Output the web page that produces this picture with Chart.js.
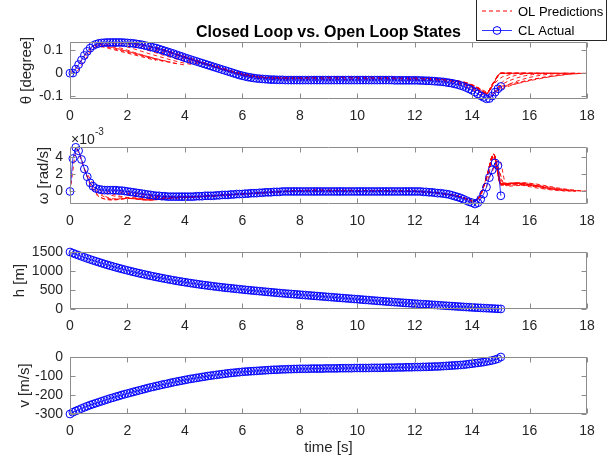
<!DOCTYPE html>
<html>
<head>
<meta charset="utf-8">
<script src="https://cdn.jsdelivr.net/npm/chart.js@4.4.1/dist/chart.umd.min.js"></script>
<style>
  html, body { margin: 0; padding: 0; background: #fff; }
  #fig { position: relative; width: 611px; height: 466px; overflow: hidden; background: #fff; }
  #fig canvas { position: absolute; left: 0; }
</style>
</head>
<body>
<div id="fig">
  <canvas id="c0" width="611" height="125" style="top:0px"></canvas>
  <canvas id="c1" width="611" height="125" style="top:105px"></canvas>
  <canvas id="c2" width="611" height="125" style="top:210px"></canvas>
  <canvas id="c3" width="611" height="151" style="top:315px"></canvas>
</div>
<script>
// closed loop samples, one every CL_DT seconds from t = 0 to 15
const CL_DT = 0.1;

const clTheta = [
  0.000, 0.001, 0.018, 0.038, 0.058, 0.078, 0.096, 0.110, 0.121, 0.127, 0.131,
  0.133, 0.134, 0.135, 0.135, 0.135, 0.135, 0.135, 0.135, 0.134, 0.133,
  0.132, 0.131, 0.129, 0.127, 0.125, 0.122, 0.119, 0.116, 0.113, 0.110,
  0.106, 0.102, 0.098, 0.094, 0.090, 0.086, 0.081, 0.077, 0.073, 0.068,
  0.064, 0.060, 0.056, 0.052, 0.048, 0.044, 0.040, 0.036, 0.032, 0.028,
  0.024, 0.020, 0.016, 0.012, 0.008, 0.004, 0.000, -0.004, -0.008, -0.011,
  -0.014, -0.017, -0.019, -0.021, -0.023, -0.024, -0.025, -0.026, -0.027, -0.028,
  -0.028, -0.029, -0.029, -0.029, -0.030, -0.030, -0.030, -0.030, -0.030, -0.030,
  -0.030, -0.030, -0.030, -0.030, -0.030, -0.030, -0.030, -0.030, -0.030, -0.030,
  -0.030, -0.030, -0.030, -0.030, -0.030, -0.030, -0.030, -0.030, -0.030, -0.030,
  -0.030, -0.030, -0.030, -0.030, -0.030, -0.030, -0.030, -0.030, -0.030, -0.030,
  -0.030, -0.030, -0.031, -0.031, -0.031, -0.031, -0.031, -0.031, -0.031, -0.031,
  -0.031, -0.032, -0.032, -0.033, -0.033, -0.034, -0.035, -0.036, -0.037, -0.038,
  -0.040, -0.042, -0.044, -0.047, -0.050, -0.054, -0.058, -0.063, -0.069, -0.075,
  -0.083, -0.091, -0.099, -0.106, -0.112, -0.111, -0.100, -0.083, -0.068, -0.058
];

// omega in units of 1e-3 rad/s (axis shows x10^-3)
const clOmega = [
  0, 3.8, 5.1, 4.7, 3.7, 2.6, 1.7, 1.0, 0.6, 0.35, 0.25,
  0.2, 0.15, 0.15, 0.15, 0.15, 0.15, 0.1, 0.1, 0.05, 0.0,
  -0.05, -0.1, -0.15, -0.2, -0.25, -0.3, -0.35, -0.4, -0.45, -0.5,
  -0.5, -0.55, -0.55, -0.6, -0.6, -0.6, -0.6, -0.6, -0.6, -0.6,
  -0.6, -0.6, -0.6, -0.55, -0.55, -0.55, -0.5, -0.5, -0.5, -0.5,
  -0.45, -0.45, -0.4, -0.4, -0.4, -0.35, -0.35, -0.3, -0.3, -0.3,
  -0.25, -0.25, -0.2, -0.2, -0.2, -0.15, -0.15, -0.1, -0.1, -0.1,
  -0.05, -0.05, -0.05, 0, 0, 0, 0, 0, 0, 0,
  0, 0, 0, 0, 0, 0, 0, 0, 0, 0,
  0, 0, 0, 0, 0, 0, 0, 0, 0, 0,
  0, 0, 0, 0, 0, 0, 0, 0, 0, 0,
  0, 0, 0, 0, 0, 0, 0, 0, 0, 0,
  0, 0, -0.05, -0.05, -0.1, -0.1, -0.15, -0.2, -0.2, -0.25,
  -0.3, -0.35, -0.45, -0.55, -0.65, -0.75, -0.9, -1.05, -1.2, -1.3,
  -1.45, -1.3, -0.9, -0.3, 0.5, 1.6, 2.5, 3.3, 3.0, -0.5
];

const clH = [
  1500, 1470, 1441, 1413, 1385, 1358, 1331, 1305, 1280, 1255, 1231,
  1207, 1184, 1161, 1139, 1117, 1096, 1075, 1055, 1035, 1016,
  997, 978, 960, 942, 925, 908, 891, 875, 859, 843,
  828, 813, 798, 784, 770, 756, 743, 730, 717, 705,
  693, 681, 670, 659, 648, 637, 627, 617, 607, 597,
  588, 579, 570, 561, 553, 545, 537, 529, 521, 513,
  505, 497, 490, 483, 476, 469, 462, 455, 448, 441,
  434, 427, 420, 413, 407, 401, 395, 389, 383, 377,
  371, 365, 359, 353, 347, 341, 335, 329, 323, 317,
  311, 305, 299, 293, 287, 281, 275, 269, 263, 257,
  251, 245, 239, 233, 227, 221, 215, 209, 203, 197,
  192, 186, 180, 175, 169, 164, 158, 153, 147, 142,
  137, 132, 127, 122, 117, 112, 107, 102, 96, 91,
  86, 81, 76, 71, 66, 61, 56, 51, 46, 41,
  37, 33, 29, 25, 21, 17, 13, 9, 5, 2
];

const clV = [
  -300, -291, -284, -278, -271, -265, -259, -253, -248, -243, -238,
  -233, -228, -223, -218, -214, -209, -205, -200, -196, -192,
  -188, -184, -180, -176, -172, -168, -164, -160, -157, -153,
  -150, -146, -143, -140, -136, -133, -130, -127, -124, -121,
  -118, -115, -113, -110, -108, -105, -103, -100, -98, -96,
  -94, -92, -90, -88, -86, -84, -83, -81, -80, -78,
  -77, -76, -75, -74, -73, -72, -71, -70, -69, -68,
  -67, -67, -66, -65, -65, -64, -64, -63, -63, -62,
  -62, -62, -62, -61, -61, -61, -61, -61, -60, -60,
  -60, -60, -60, -59, -59, -59, -59, -59, -58, -58,
  -58, -58, -58, -58, -57, -57, -57, -57, -57, -56,
  -56, -56, -56, -55, -55, -55, -54, -54, -54, -53,
  -53, -53, -52, -52, -51, -51, -50, -50, -49, -48,
  -47, -46, -45, -44, -43, -42, -41, -39, -37, -35,
  -33, -31, -29, -27, -24, -21, -18, -14, -9, 0
];

// open loop predictions: row k starts at olStarts[k], one value every OL_DT s over a 3 s horizon
const OL_DT = 0.25;
const olStarts = [0, 0.5, 1, 1.5, 2, 2.5, 3, 3.5, 4, 4.5, 5, 5.5, 6, 6.5, 7, 7.5, 8, 8.5,
  9, 9.5, 10, 10.5, 11, 11.5, 12, 12.5, 13, 13.5, 14, 14.5, 14.6, 14.7, 14.8, 14.9, 15,
  0.25, 0.75, 1.25, 1.75, 2.25, 2.75, 3.25, 3.75, 4.25, 4.75, 5.25, 5.75,
  11.75, 12.25, 12.75, 13.25, 13.75, 14.25];

const olTheta = [
  [0.000, 0.030, 0.075, 0.105, 0.118, 0.112, 0.104, 0.096, 0.088, 0.080, 0.072, 0.064, 0.056],
  [0.078, 0.112, 0.124, 0.120, 0.112, 0.104, 0.096, 0.088, 0.080, 0.072, 0.064, 0.056, 0.049],
  [0.131, 0.127, 0.120, 0.111, 0.101, 0.091, 0.081, 0.072, 0.063, 0.055, 0.048, 0.042, 0.036],
  [0.135, 0.132, 0.126, 0.118, 0.109, 0.099, 0.089, 0.079, 0.070, 0.061, 0.053, 0.046, 0.040],
  [0.133, 0.130, 0.124, 0.116, 0.107, 0.097, 0.087, 0.077, 0.067, 0.058, 0.049, 0.041, 0.034],
  [0.125, 0.120, 0.113, 0.104, 0.094, 0.084, 0.073, 0.063, 0.053, 0.043, 0.034, 0.025, 0.017],
  [0.110, 0.103, 0.094, 0.084, 0.073, 0.062, 0.051, 0.041, 0.031, 0.022, 0.013, 0.005, -0.002],
  [0.090, 0.082, 0.072, 0.062, 0.051, 0.041, 0.031, 0.021, 0.012, 0.004, -0.003, -0.009, -0.013],
  [0.068, 0.059, 0.049, 0.039, 0.029, 0.019, 0.010, 0.002, -0.005, -0.011, -0.015, -0.018, -0.020],
  [0.048, 0.038, 0.028, 0.019, 0.010, 0.002, -0.005, -0.011, -0.015, -0.018, -0.020, -0.021, -0.021],
  [0.028, 0.019, 0.010, 0.002, -0.005, -0.011, -0.015, -0.018, -0.020, -0.021, -0.021, -0.021, -0.021],
  [0.008, 0.000, -0.007, -0.012, -0.016, -0.019, -0.020, -0.021, -0.021, -0.021, -0.021, -0.021, -0.021],
  [-0.011, -0.015, -0.018, -0.020, -0.021, -0.021, -0.021, -0.021, -0.021, -0.021, -0.021, -0.021, -0.021],
  [-0.023, -0.023, -0.022, -0.021, -0.020, -0.019, -0.018, -0.018, -0.017, -0.017, -0.017, -0.017, -0.017],
  [-0.028, -0.026, -0.024, -0.022, -0.021, -0.020, -0.020, -0.019, -0.019, -0.019, -0.019, -0.019, -0.019],
  [-0.030, -0.027, -0.024, -0.021, -0.019, -0.018, -0.017, -0.016, -0.016, -0.016, -0.016, -0.016, -0.016],
  [-0.030, -0.027, -0.025, -0.023, -0.021, -0.020, -0.019, -0.019, -0.018, -0.018, -0.018, -0.018, -0.018],
  [-0.030, -0.028, -0.025, -0.022, -0.020, -0.019, -0.018, -0.017, -0.017, -0.017, -0.017, -0.017, -0.017],
  [-0.030, -0.028, -0.026, -0.025, -0.024, -0.023, -0.023, -0.023, -0.023, -0.023, -0.023, -0.023, -0.023],
  [-0.030, -0.027, -0.025, -0.023, -0.022, -0.021, -0.021, -0.021, -0.021, -0.021, -0.021, -0.022, -0.022],
  [-0.030, -0.027, -0.024, -0.022, -0.020, -0.019, -0.019, -0.019, -0.019, -0.020, -0.022, -0.024, -0.027],
  [-0.030, -0.027, -0.025, -0.023, -0.022, -0.021, -0.021, -0.022, -0.023, -0.025, -0.027, -0.030, -0.035],
  [-0.030, -0.027, -0.025, -0.024, -0.023, -0.023, -0.024, -0.025, -0.027, -0.030, -0.035, -0.042, -0.052],
  [-0.031, -0.028, -0.026, -0.025, -0.025, -0.026, -0.028, -0.031, -0.035, -0.042, -0.052, -0.066, -0.082],
  [-0.031, -0.029, -0.027, -0.027, -0.028, -0.030, -0.034, -0.040, -0.052, -0.068, -0.086, -0.038, 0.000],
  [-0.032, -0.030, -0.030, -0.031, -0.034, -0.040, -0.052, -0.070, -0.088, -0.040, 0.000, 0.000, 0.000],
  [-0.038, -0.036, -0.036, -0.040, -0.050, -0.066, -0.086, -0.040, 0.000, 0.000, 0.000, 0.000, 0.000],
  [-0.050, -0.052, -0.058, -0.070, -0.088, -0.042, 0.000, 0.000, 0.000, 0.000, 0.000, 0.000, 0.000],
  [-0.075, -0.082, -0.090, -0.045, 0.000, 0.000, 0.000, 0.000, 0.000, 0.000, 0.000, 0.000, 0.000],
  [-0.112, -0.085, -0.045, -0.022, -0.010, -0.004, -0.001, 0.000, 0.000, 0.000, 0.000, 0.000, 0.000],
  [-0.111, -0.070, -0.045, -0.030, -0.019, -0.011, -0.006, -0.003, -0.001, 0.000, 0.000, 0.000, 0.000],
  [-0.099, -0.070, -0.053, -0.040, -0.029, -0.020, -0.013, -0.008, -0.004, -0.002, 0.000, 0.000, 0.000],
  [-0.082, -0.068, -0.056, -0.046, -0.037, -0.029, -0.022, -0.016, -0.011, -0.006, -0.003, -0.001, 0.000],
  [-0.067, -0.058, -0.050, -0.043, -0.036, -0.029, -0.023, -0.017, -0.012, -0.008, -0.004, -0.002, 0.000],
  [-0.058, -0.050, -0.043, -0.036, -0.030, -0.024, -0.019, -0.014, -0.010, -0.006, -0.003, -0.001, 0.000],
  // intermediate starts
  [0.008, 0.055, 0.100, 0.120, 0.116, 0.108, 0.100, 0.092, 0.084, 0.076, 0.068, 0.060, 0.052],
  [0.116, 0.127, 0.122, 0.114, 0.105, 0.096, 0.087, 0.078, 0.069, 0.061, 0.054, 0.047, 0.041],
  [0.134, 0.130, 0.123, 0.115, 0.106, 0.096, 0.086, 0.077, 0.068, 0.059, 0.051, 0.044, 0.038],
  [0.135, 0.132, 0.126, 0.118, 0.109, 0.100, 0.090, 0.080, 0.070, 0.061, 0.052, 0.044, 0.037],
  [0.130, 0.126, 0.119, 0.110, 0.101, 0.091, 0.081, 0.071, 0.061, 0.051, 0.042, 0.033, 0.025],
  [0.118, 0.112, 0.104, 0.094, 0.083, 0.072, 0.062, 0.052, 0.042, 0.032, 0.023, 0.015, 0.007],
  [0.100, 0.092, 0.082, 0.072, 0.061, 0.051, 0.041, 0.031, 0.022, 0.013, 0.005, -0.002, -0.008],
  [0.079, 0.070, 0.060, 0.050, 0.040, 0.030, 0.021, 0.012, 0.004, -0.003, -0.009, -0.014, -0.017],
  [0.058, 0.048, 0.038, 0.028, 0.019, 0.010, 0.002, -0.005, -0.011, -0.015, -0.018, -0.020, -0.021],
  [0.038, 0.028, 0.019, 0.010, 0.002, -0.005, -0.011, -0.015, -0.018, -0.020, -0.021, -0.021, -0.021],
  [0.018, 0.009, 0.001, -0.006, -0.012, -0.016, -0.019, -0.020, -0.021, -0.021, -0.021, -0.021, -0.021],
  [-0.002, -0.009, -0.014, -0.018, -0.020, -0.021, -0.021, -0.021, -0.020, -0.020, -0.020, -0.020, -0.020],
  [-0.031, -0.028, -0.026, -0.026, -0.026, -0.027, -0.030, -0.034, -0.042, -0.054, -0.070, -0.086, -0.040],
  [-0.032, -0.030, -0.029, -0.029, -0.031, -0.035, -0.044, -0.058, -0.074, -0.088, -0.040, 0.000, 0.000],
  [-0.034, -0.033, -0.034, -0.038, -0.046, -0.060, -0.076, -0.090, -0.042, 0.000, 0.000, 0.000, 0.000],
  [-0.043, -0.044, -0.050, -0.062, -0.078, -0.090, -0.042, 0.000, 0.000, 0.000, 0.000, 0.000, 0.000],
  [-0.060, -0.068, -0.080, -0.092, -0.044, 0.000, 0.000, 0.000, 0.000, 0.000, 0.000, 0.000, 0.000],
  [-0.095, -0.090, -0.050, -0.020, -0.008, -0.002, 0.000, 0.000, 0.000, 0.000, 0.000, 0.000, 0.000]
];

const olOmega = [
  [0.0, 4.9, 2.6, 0.6, -0.5, -0.9, -1.0, -0.9, -0.8, -0.85, -0.95, -1.0, -0.95],
  [2.6, 1.2, 0.0, -0.6, -0.85, -0.85, -0.8, -0.85, -0.95, -1.0, -0.95, -0.85, -0.75],
  [0.25, -0.2, -0.5, -0.65, -0.7, -0.75, -0.85, -0.9, -0.9, -0.85, -0.75, -0.7, -0.65],
  [0.15, -0.1, -0.35, -0.5, -0.6, -0.7, -0.75, -0.8, -0.8, -0.75, -0.7, -0.65, -0.6],
  [0.0, -0.2, -0.35, -0.5, -0.6, -0.65, -0.7, -0.7, -0.7, -0.65, -0.6, -0.55, -0.5],
  [-0.25, -0.4, -0.5, -0.6, -0.65, -0.7, -0.7, -0.65, -0.6, -0.55, -0.5, -0.45, -0.4],
  [-0.5, -0.55, -0.6, -0.65, -0.65, -0.65, -0.6, -0.55, -0.5, -0.45, -0.4, -0.35, -0.3],
  [-0.6, -0.6, -0.65, -0.65, -0.6, -0.55, -0.5, -0.45, -0.4, -0.35, -0.3, -0.25, -0.2],
  [-0.6, -0.6, -0.6, -0.55, -0.5, -0.45, -0.4, -0.35, -0.3, -0.25, -0.2, -0.15, -0.1],
  [-0.55, -0.55, -0.5, -0.45, -0.4, -0.35, -0.3, -0.25, -0.2, -0.15, -0.1, -0.05, 0.0],
  [-0.5, -0.45, -0.4, -0.35, -0.3, -0.25, -0.2, -0.15, -0.1, -0.05, 0.0, 0.05, 0.05],
  [-0.35, -0.3, -0.25, -0.2, -0.15, -0.1, -0.05, 0.0, 0.05, 0.05, 0.1, 0.1, 0.1],
  [-0.3, -0.25, -0.2, -0.15, -0.1, -0.05, 0.0, 0.05, 0.1, 0.1, 0.1, 0.1, 0.1],
  [-0.15, -0.1, -0.05, 0.0, 0.05, 0.1, 0.1, 0.15, 0.15, 0.15, 0.1, 0.1, 0.1],
  [-0.1, -0.05, 0.0, 0.05, 0.1, 0.1, 0.15, 0.15, 0.15, 0.1, 0.1, 0.1, 0.1],
  [0.0, 0.05, 0.1, 0.1, 0.15, 0.15, 0.15, 0.1, 0.1, 0.1, 0.1, 0.1, 0.1],
  [0.0, 0.05, 0.1, 0.1, 0.1, 0.1, 0.1, 0.1, 0.1, 0.1, 0.1, 0.1, 0.1],
  [0.0, 0.05, 0.1, 0.15, 0.15, 0.15, 0.1, 0.1, 0.1, 0.1, 0.1, 0.1, 0.05],
  [0.0, 0.05, 0.1, 0.1, 0.1, 0.1, 0.1, 0.1, 0.1, 0.1, 0.1, 0.05, 0.05],
  [0.0, 0.05, 0.1, 0.1, 0.1, 0.1, 0.1, 0.1, 0.1, 0.1, 0.05, 0.05, 0.0],
  [0.0, 0.05, 0.1, 0.1, 0.1, 0.1, 0.1, 0.1, 0.05, 0.0, -0.05, -0.1, -0.2],
  [0.0, 0.05, 0.1, 0.1, 0.1, 0.05, 0.0, -0.05, -0.1, -0.2, -0.3, -0.4, -0.5],
  [0.0, 0.05, 0.05, 0.05, 0.0, -0.05, -0.1, -0.2, -0.3, -0.4, -0.6, -0.8, -1.0],
  [0.0, 0.0, 0.0, -0.05, -0.1, -0.2, -0.3, -0.45, -0.6, -0.8, -1.1, -0.6, 1.6],
  [0.0, -0.05, -0.1, -0.15, -0.25, -0.4, -0.55, -0.8, -1.1, -0.6, 1.6, 4.3, 0.9],
  [-0.1, -0.15, -0.25, -0.4, -0.55, -0.8, -1.1, -0.6, 1.6, 4.3, 0.9, 0.9, 0.9],
  [-0.25, -0.4, -0.55, -0.8, -1.1, -0.6, 1.6, 4.3, 0.9, 0.9, 0.95, 0.9, 0.8],
  [-0.5, -0.75, -1.1, -0.6, 1.6, 4.2, 0.9, 0.95, 1.0, 0.95, 0.85, 0.7, 0.55],
  [-1.3, -0.7, 1.5, 4.2, 0.8, 0.85, 0.9, 0.85, 0.75, 0.6, 0.45, 0.3, 0.2],
  [0.5, 3.9, 0.8, 0.85, 0.9, 0.8, 0.65, 0.5, 0.35, 0.25, 0.15, 0.08, 0.03],
  [1.6, 3.0, 0.8, 0.9, 0.95, 0.85, 0.7, 0.55, 0.4, 0.25, 0.15, 0.08, 0.03],
  [2.5, 3.6, 0.6, 0.65, 0.7, 0.7, 0.6, 0.5, 0.35, 0.25, 0.15, 0.08, 0.03],
  [3.2, 1.0, 0.95, 1.0, 1.0, 0.9, 0.75, 0.6, 0.45, 0.3, 0.2, 0.1, 0.05],
  [2.9, 0.7, 0.75, 0.8, 0.8, 0.7, 0.6, 0.45, 0.35, 0.25, 0.15, 0.08, 0.03],
  [0.8, 0.9, 0.95, 1.0, 0.95, 0.85, 0.7, 0.55, 0.4, 0.28, 0.18, 0.1, 0.05],
  // intermediate starts
  [4.9, 2.6, 0.4, -0.6, -0.9, -0.95, -0.85, -0.8, -0.85, -0.95, -1.0, -0.95, -0.85],
  [0.8, -0.2, -0.7, -0.9, -0.9, -0.8, -0.8, -0.9, -0.95, -0.95, -0.85, -0.75, -0.7],
  [0.15, -0.3, -0.55, -0.7, -0.75, -0.8, -0.85, -0.9, -0.85, -0.8, -0.7, -0.65, -0.6],
  [0.1, -0.2, -0.45, -0.6, -0.7, -0.75, -0.8, -0.8, -0.75, -0.7, -0.65, -0.6, -0.55],
  [-0.15, -0.3, -0.45, -0.55, -0.65, -0.7, -0.7, -0.7, -0.65, -0.6, -0.55, -0.5, -0.45],
  [-0.4, -0.5, -0.6, -0.65, -0.7, -0.7, -0.65, -0.6, -0.55, -0.5, -0.45, -0.4, -0.35],
  [-0.55, -0.6, -0.65, -0.65, -0.65, -0.6, -0.55, -0.5, -0.45, -0.4, -0.35, -0.3, -0.25],
  [-0.6, -0.6, -0.6, -0.6, -0.55, -0.5, -0.45, -0.4, -0.35, -0.3, -0.25, -0.2, -0.15],
  [-0.6, -0.6, -0.55, -0.5, -0.45, -0.4, -0.35, -0.3, -0.25, -0.2, -0.15, -0.1, -0.05],
  [-0.5, -0.5, -0.45, -0.4, -0.35, -0.3, -0.25, -0.2, -0.15, -0.1, -0.05, 0.0, 0.05],
  [-0.45, -0.4, -0.35, -0.3, -0.25, -0.2, -0.15, -0.1, -0.05, 0.0, 0.05, 0.1, 0.1],
  [-0.35, -0.3, -0.25, -0.2, -0.15, -0.1, -0.05, 0.0, 0.05, 0.1, 0.1, 0.1, 0.1],
  [0.0, 0.0, -0.05, -0.1, -0.15, -0.25, -0.4, -0.55, -0.8, -1.1, -0.6, 1.6, 4.3],
  [-0.05, -0.1, -0.15, -0.25, -0.4, -0.55, -0.8, -1.1, -0.6, 1.6, 4.3, 0.9, 0.85],
  [-0.15, -0.25, -0.4, -0.55, -0.8, -1.1, -0.6, 1.6, 4.3, 0.85, 0.9, 0.95, 0.9],
  [-0.35, -0.55, -0.8, -1.1, -0.6, 1.6, 4.3, 0.85, 0.9, 0.95, 0.9, 0.8, 0.65],
  [-0.75, -1.1, -0.65, 1.55, 4.2, 0.8, 0.85, 0.9, 0.85, 0.75, 0.6, 0.45, 0.3],
  [-1.1, 1.5, 4.1, 0.7, 0.75, 0.75, 0.7, 0.55, 0.4, 0.3, 0.18, 0.1, 0.05]
];

// h and v predictions are hidden under the CL markers, only the tail past t = 15 shows
const olTailTime = [15, 16, 17, 18];
const olHTail = [0, 0, 0, 0];
const olVTail = [0, 0, 0, 0];

const xTicks = [0, 2, 4, 6, 8, 10, 12, 14, 16, 18];
const thetaTicks = [-0.1, 0, 0.1];
const omegaTicks = [0, 2, 4];
const hTicks = [0, 500, 1000, 1500];
const vTicks = [-300, -200, -100, 0];

const FONT = "'Liberation Sans', Arial, Helvetica, sans-serif";
const TXT = '#262626';
const BLUE = '#0000ff';
const RED = '#ff0000';

Chart.defaults.font.family = FONT;

function clDataset(values) {
  return {
    data: values.map((y, i) => ({ x: Math.round(i * CL_DT * 10) / 10, y })),
    showLine: true,
    borderColor: BLUE,
    borderWidth: 0.8,
    pointRadius: 3.9,
    pointBorderWidth: 1,
    pointBorderColor: BLUE,
    pointBackgroundColor: 'rgba(0,0,0,0)',
    clip: false,
    order: 0
  };
}

function olDataset(times, values) {
  return {
    data: values.map((y, j) => ({ x: times[j], y })),
    showLine: true,
    borderColor: RED,
    borderWidth: 0.9,
    borderDash: [4, 3],
    pointRadius: 0,
    cubicInterpolationMode: 'monotone',
    order: 1
  };
}

function olSets(rows) {
  return rows.map((row, k) => olDataset(row.map((_, j) => olStarts[k] + j * OL_DT), row));
}

// axes box with inward ticks on all four sides, like the original figure
const axesBox = {
  id: 'axesBox',
  afterDatasetsDraw(chart) {
    const { ctx, chartArea: a, scales } = chart;
    const yTicks = chart.options.plugins.axesBox.yTicks;
    const L = Math.round(a.left) + 0.5, R = Math.round(a.right) - 0.5;
    const T = Math.round(a.top) + 0.5, B = Math.round(a.bottom) - 0.5;
    ctx.save();
    ctx.strokeStyle = '#8c8c8c';
    ctx.lineWidth = 1;
    ctx.beginPath();
    ctx.rect(L, T, R - L, B - T);
    const tl = 5;
    xTicks.forEach(v => {
      const px = Math.round(scales.x.getPixelForValue(v)) + 0.5;
      ctx.moveTo(px, B); ctx.lineTo(px, B - tl);
      ctx.moveTo(px, T); ctx.lineTo(px, T + tl);
    });
    yTicks.forEach(v => {
      const py = Math.round(scales.y.getPixelForValue(v)) + 0.5;
      ctx.moveTo(L, py); ctx.lineTo(L + tl, py);
      ctx.moveTo(R, py); ctx.lineTo(R - tl, py);
    });
    ctx.stroke();
    ctx.restore();
  },
  afterDraw(chart) {
    const o = chart.options.plugins.axesBox;
    const { ctx, chartArea: a } = chart;
    ctx.save();
    if (o.title) {
      ctx.fillStyle = '#000';
      ctx.font = 'bold 16px ' + FONT;
      ctx.textAlign = 'center';
      ctx.textBaseline = 'middle';
      ctx.fillText(o.title, (a.left + a.right) / 2, 33);
    }
    if (o.legend) {
      const bx = 476.5, by = -0.5, bw = 130, bh = 41;
      ctx.fillStyle = '#fff';
      ctx.fillRect(bx, by, bw, bh);
      ctx.strokeStyle = '#262626';
      ctx.lineWidth = 1;
      ctx.strokeRect(bx, by, bw, bh);
      ctx.font = '13px ' + FONT;
      ctx.fillStyle = '#000';
      ctx.textAlign = 'left';
      ctx.textBaseline = 'middle';
      ctx.strokeStyle = RED;
      ctx.lineWidth = 1;
      ctx.setLineDash([4, 3]);
      ctx.beginPath(); ctx.moveTo(482, 11); ctx.lineTo(512, 11); ctx.stroke();
      ctx.setLineDash([]);
      ctx.fillText(o.legend[0], 518, 12);
      ctx.strokeStyle = BLUE;
      ctx.lineWidth = 0.8;
      ctx.beginPath(); ctx.moveTo(482, 30.5); ctx.lineTo(512, 30.5); ctx.stroke();
      ctx.lineWidth = 1;
      ctx.beginPath(); ctx.arc(497, 30.5, 3.9, 0, Math.PI * 2); ctx.stroke();
      ctx.fillText(o.legend[1], 518, 31);
    }
    if (o.exponent) {
      ctx.fillStyle = TXT;
      ctx.textAlign = 'left';
      ctx.textBaseline = 'alphabetic';
      ctx.font = '14px ' + FONT;
      ctx.fillText('\u00d710', a.left + 1, a.top - 3);
      ctx.font = '10px ' + FONT;
      ctx.fillText('-3', a.left + 25, a.top - 12);
    }
    ctx.restore();
  }
};

function makeChart(id, opts) {
  const yTicks = opts.yTicks;
  return new Chart(document.getElementById(id), {
    type: 'scatter',
    data: { datasets: opts.datasets },
    options: {
      responsive: false,
      animation: false,
      events: [],
      layout: { padding: { left: opts.padLeft, right: 24, top: 42, bottom: 4 } },
      plugins: {
        legend: { display: false },
        tooltip: { enabled: false },
        title: { display: false },
        axesBox: { yTicks, title: opts.title, legend: opts.legend, exponent: opts.exponent }
      },
      scales: {
        x: {
          type: 'linear',
          min: 0,
          max: 18,
          afterBuildTicks: s => { s.ticks = xTicks.map(v => ({ value: v })); },
          afterFit: s => { s.height = opts.xTitle ? 48 : 22; },
          grid: { display: false, drawTicks: false },
          border: { display: false },
          ticks: {
            color: TXT, padding: 9, maxRotation: 0, autoSkip: false,
            font: { size: 14 }, callback: v => String(v)
          },
          title: {
            display: !!opts.xTitle, text: opts.xTitle, color: TXT,
            font: { size: 15 }, padding: { top: 0, bottom: 5 }
          }
        },
        y: {
          type: 'linear',
          min: opts.yMin,
          max: opts.yMax,
          afterBuildTicks: s => { s.ticks = yTicks.map(v => ({ value: v })); },
          afterFit: s => { s.width = 70 - opts.padLeft; },
          grid: { display: false, drawTicks: false },
          border: { display: false },
          ticks: {
            color: TXT, padding: 7, autoSkip: false,
            font: { size: 14 }, callback: v => String(v)
          },
          title: {
            display: true, text: opts.yTitle, color: TXT,
            font: { size: 15 }, padding: 0
          }
        }
      }
    },
    plugins: [axesBox]
  });
}

makeChart('c0', {
  datasets: [clDataset(clTheta), ...olSets(olTheta)],
  yMin: -0.113, yMax: 0.137, yTicks: thetaTicks,
  yTitle: '\u03b8 [degree]', padLeft: 18,
  title: 'Closed Loop vs. Open Loop States',
  legend: ['OL Predictions', 'CL Actual']
});

makeChart('c1', {
  datasets: [clDataset(clOmega), ...olSets(olOmega)],
  yMin: -1.45, yMax: 5.14, yTicks: omegaTicks,
  yTitle: '\u03c9 [rad/s]', padLeft: 35,
  exponent: true
});

makeChart('c2', {
  datasets: [clDataset(clH), olDataset(olTailTime, olHTail)],
  yMin: 0, yMax: 1500, yTicks: hTicks,
  yTitle: 'h [m]', padLeft: 11
});

makeChart('c3', {
  datasets: [clDataset(clV), olDataset(olTailTime, olVTail)],
  yMin: -300, yMax: 0, yTicks: vTicks,
  yTitle: 'v [m/s]', padLeft: 16,
  xTitle: 'time [s]'
});
</script>
</body>
</html>
